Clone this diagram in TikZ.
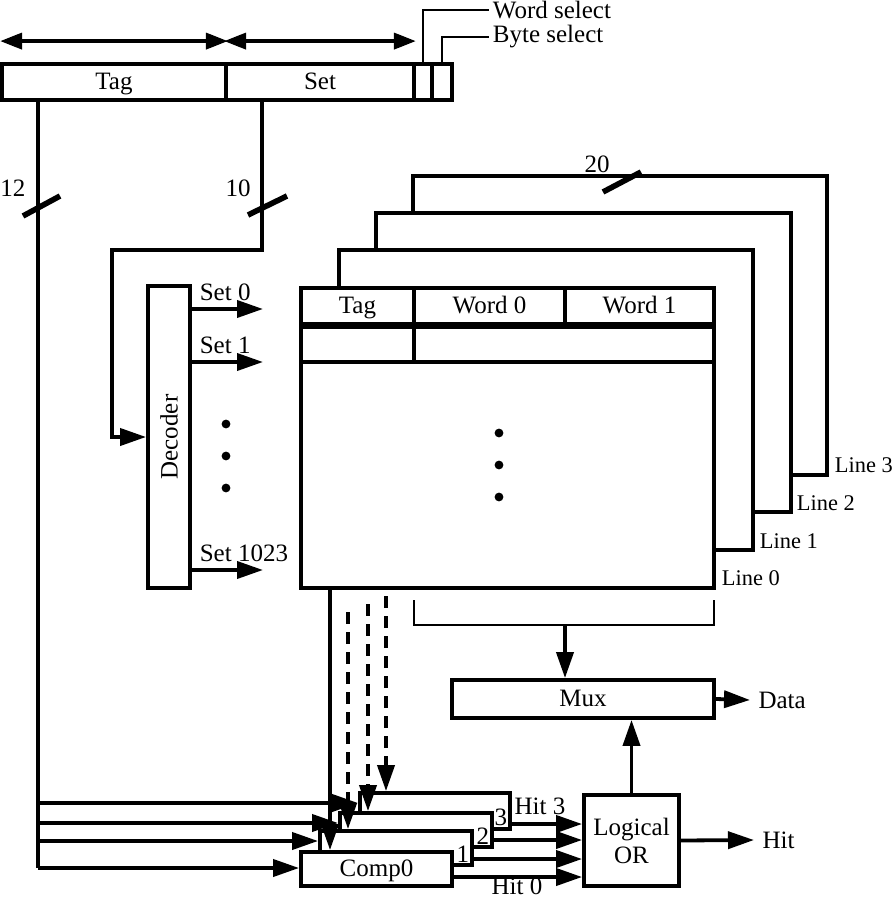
\documentclass[tikz,border=0pt]{standalone}
\usepackage{fontspec}
\setmainfont{Liberation Serif}
\usetikzlibrary{arrows.meta,fit}

\begin{document}
\begin{tikzpicture}[x=0.5pt,y=-0.5pt,
    font=\fontsize{12.5}{14}\selectfont,
    line width=1.9pt,
    box/.style={draw,fill=white,inner sep=0pt},
    lab/.style={text height=1.5ex,text depth=.45ex,yshift=-1.5pt},
    linelab/.style={anchor=west,inner sep=1pt,font=\fontsize{11.2}{13}\selectfont},
    arr/.style={-{Triangle[length=13pt,width=8.5pt]}},
    thinline/.style={line width=1.1pt},
    bus/.style={line width=2.8pt}]
  \useasboundingbox (0,0) rectangle (891,899);
  % 地址字段
  \node[box,fit={(2,64)(226,100)},label={[lab]center:Tag}] (tagf) {};
  \node[box,fit={(226,64)(414,100)},label={[lab]center:Set}] (setf) {};
  \node[box,fit={(414,64)(432,100)}] (wsel) {};
  \node[box,fit={(432,64)(452,100)}] (bsel) {};
  \draw[{Triangle[length=11pt,width=8pt]}-{Triangle[length=11pt,width=8pt]}]
    ([yshift=10.5pt]tagf.north west) -- ([yshift=10.5pt]tagf.north east);
  \draw[{Triangle[length=11pt,width=8pt]}-{Triangle[length=11pt,width=8pt]}]
    ([yshift=10.5pt]setf.north west) -- ([yshift=10.5pt]setf.north east);
  \node[anchor=west,inner sep=1pt] (wtxt) at (489,10) {Word select};
  \node[anchor=west,inner sep=1pt] (btxt) at (489,37) {Byte select};
  \draw[thinline] (wsel.north) |- (wtxt.west);
  \draw[thinline] (bsel.north) |- (btxt.west);
  % 四路缓存（由后往前）
  \node[box,fit={(413,176)(827,475)}] (line3) {};
  \node[box,fit={(376,213)(791,512)}] (line2) {};
  \node[box,fit={(339,250)(753,550)}] (line1) {};
  \node[box,fit={(301,288)(714,588)}] (line0) {};
  \node[box,fit={(301,288)(414,324)},label={[lab]center:Tag}] (ctag) {};
  \node[box,fit={(414,288)(565,324)},label={[lab]center:Word 0}] (cw0) {};
  \node[box,fit={(565,288)(714,324)},label={[lab]center:Word 1}] (cw1) {};
  \node[box,fit={(301,324)(414,362)}] (ctag2) {};
  \node[box,fit={(414,324)(714,362)}] (cdat2) {};
  \draw[line width=2.8pt] (ctag.south west) -- (cw1.south east);
  \foreach \y in {433,465,497} \fill (499,\y) circle (2.2pt);
  \node[linelab] (l0) at (718,578) {Line 0};
  \node[linelab] (l1) at (756,541) {Line 1};
  \node[linelab] (l2) at (793,503) {Line 2};
  \node[linelab] (l3) at (831,465) {Line 3};
  \draw[bus] (603,192) -- (641,172);
  \node (w20) at (597,164) {20};
  % 译码器
  \node[box,fit={(148,286)(190,588)}] (dec) {};
  \node[rotate=90] (decl) at (dec.center) {Decoder};
  \foreach \n/\y/\t in {s0/309/Set 0,s1/362/Set 1,s2/570/Set 1023} {
    \coordinate (\n) at (263,\y);
    \draw[arr] (dec.east |- \n) -- (\n) node[pos=0,anchor=south west,inner sep=3pt] {\t};
  }
  \foreach \y in {424,456,488} \fill (226,\y) circle (2.2pt);
  % Tag 与 Set 连线
  \coordinate (tg) at ([xshift=19pt]tagf.south west);
  \coordinate (sg) at ([xshift=19pt]setf.south west);
  \draw (tg) -- (tg |- 0,868);
  \draw[bus] (23,216) -- (60,196);
  \node (n12) at (13,188) {12};
  \draw[arr] (sg) |- (112,250) |- (dec.west);
  \draw[bus] (248,215) -- (287,196);
  \node (n10) at (238,188) {10};
  % 比较器（由后往前）
  \node[box,fit={(360,793)(510,829)}] (comp3) {};
  \node[box,fit={(340,813)(492,847)}] (comp2) {};
  \node[box,fit={(320,831)(472,865)}] (comp1) {};
  \node[box,fit={(301,852)(452,886)},label={[lab]center:Comp0}] (comp0) {};
  \node[anchor=south east,inner sep=1.5pt] (k3) at (comp3.south east) {3};
  \node[anchor=south east,inner sep=1.5pt] (k2) at (comp2.south east) {2};
  \node[anchor=south east,inner sep=1.5pt] (k1) at (comp1.south east) {1};
  \draw[arr] (tg |- 0,803) -- (comp3.west |- 0,803);
  \draw[arr] (tg |- 0,823) -- (comp2.west |- 0,823);
  \draw[arr] (tg |- 0,841) -- (comp1.west |- 0,841);
  \draw[arr] (tg |- 0,868) -- (comp0.west |- 0,868);
  \draw[arr] (line0.south -| 330,0) -- (comp0.north -| 330,0);
  \draw[arr,dash pattern=on 6pt off 4pt] (348,612) -- (comp1.north -| 348,0);
  \draw[arr,dash pattern=on 6pt off 4pt] (368,604) -- (comp2.north -| 368,0);
  \draw[arr,dash pattern=on 6pt off 4pt] (386,596) -- (comp3.north -| 386,0);
  % 多路选择与命中
  \node[box,fit={(452,680)(714,718)},label={[lab]center:Mux}] (mux) {};
  \node[box,fit={(584,795)(679,886)},label={[align=center]center:Logical\\OR}] (lor) {};
  \draw[thinline] (414,600) |- (565,625) coordinate (mb) -| (714,600);
  \draw[arr] (mb) -- (mux.north -| mb);
  \node[anchor=west] (dat) at (750,700) {Data};
  \draw[arr] (mux.east) -- (dat.west);
  \node[anchor=west] (hit) at (754,840) {Hit};
  \draw[arr] (lor.east) -- (hit.west);
  \draw[arr] (lor.north) -- (lor.north |- mux.south);
  \draw[arr] (comp3.east |- 0,824) -- (lor.west |- 0,824);
  \draw[arr] (comp2.east |- 0,840) -- (lor.west |- 0,840);
  \draw[arr] (comp1.east |- 0,859) -- (lor.west |- 0,859);
  \draw[arr] (comp0.east |- 0,877) -- (lor.west |- 0,877);
  \node (h3) at (540,806) {Hit 3};
  \node[inner sep=0pt] (h0) at (517,886) {Hit 0};
\end{tikzpicture}
\end{document}
